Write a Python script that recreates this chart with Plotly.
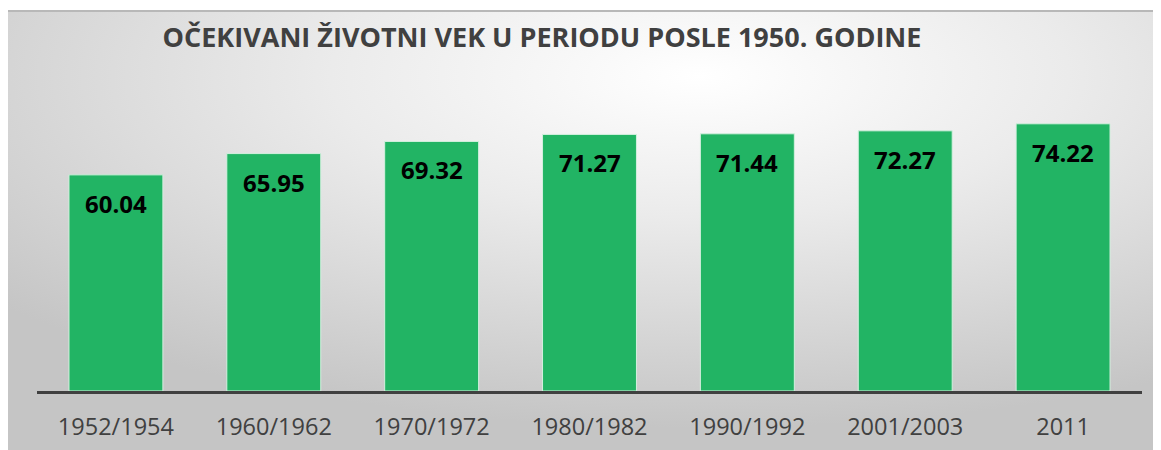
import plotly.graph_objects as go
import base64

categories = ["1952/1954", "1960/1962", "1970/1972", "1980/1982", "1990/1992", "2001/2003", "2011"]
values = [60.04, 65.95, 69.32, 71.27, 71.44, 72.27, 74.22]
title_text = "OČEKIVANI ŽIVOTNI VEK U PERIODU POSLE 1950. GODINE"

OFF = 8  # browser body margin
W, H = 1161 - OFF, 450 - OFF
L, R, T, B = 37 - OFF, 1142 - OFF, 103 - OFF, 391 - OFF

svg = (
    '<svg xmlns="http://www.w3.org/2000/svg" width="1153" height="440" viewBox="0 0 1153 440" preserveAspectRatio="none">'
    '<defs><radialGradient id="g" cx="0.6" cy="0.15" r="0.8" fx="0.6" fy="0.15">'
    '<stop offset="0" stop-color="#ffffff"/><stop offset="0.4" stop-color="#ebebeb"/>'
    '<stop offset="1" stop-color="#c5c5c5"/></radialGradient></defs>'
    '<rect width="1153" height="440" fill="url(#g)"/>'
    '<rect width="1153" height="2" fill="#b8b8b8"/>'
    '</svg>'
)
bg_src = "data:image/svg+xml;base64," + base64.b64encode(svg.encode()).decode()

pw, ph = R - L, B - T
idx = list(range(len(categories)))

fig = go.Figure()
fig.add_trace(go.Bar(
    x=idx, y=values,
    marker=dict(color="#22B464", line=dict(color="#d4f0df", width=1)),
    hovertext=categories, hoverinfo="text+y",
))

for i, v in zip(idx, values):
    fig.add_annotation(
        x=i, y=v, text=f"<b>{v:.2f}</b>", showarrow=False,
        yanchor="top", yshift=-10,
        font=dict(family="Open Sans", size=24, color="#000000"),
    )

fig.update_layout(
    width=W, height=H,
    margin=dict(l=L, r=W - R, t=T, b=H - B, autoexpand=False),
    paper_bgcolor="#ffffff",
    plot_bgcolor="rgba(0,0,0,0)",
    bargap=0.405,
    showlegend=False,
    title=dict(
        text=f"<b>{title_text}</b>",
        font=dict(family="Open Sans", size=27, color="#404040"),
        xref="paper", x=(542 - OFF - L) / pw, xanchor="center",
        yref="container", y=1 - (38 - OFF) / H, yanchor="middle",
        automargin=False,
    ),
    xaxis=dict(
        type="linear", range=[-0.5, len(categories) - 0.5], automargin=False,
        tickmode="array", tickvals=idx, ticktext=categories,
        showline=True, linecolor="#404040", linewidth=3,
        ticks="outside", ticklen=13, tickcolor="rgba(0,0,0,0)",
        tickfont=dict(family="Open Sans", size=23.5, color="#404040"),
        showgrid=False, zeroline=False, fixedrange=True,
    ),
    yaxis=dict(range=[0, 80], visible=False, showgrid=False, fixedrange=True, automargin=False),
    images=[dict(
        source=bg_src, xref="paper", yref="paper",
        x=(0 - L) / pw, y=(B - 2) / ph,
        sizex=W / pw, sizey=(H - 2) / ph,
        sizing="stretch", xanchor="left", yanchor="top", layer="below",
    )],
)

fig.write_html("out.html")
